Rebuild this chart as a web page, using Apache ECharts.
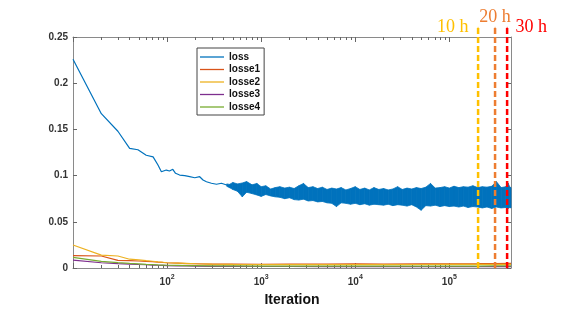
<!DOCTYPE html>
<html>
<head>
<meta charset="utf-8">
<script src="https://cdn.jsdelivr.net/npm/echarts@6/dist/echarts.min.js"></script>
<style>
  html,body{margin:0;padding:0;background:#fff;}
  #chart{width:580px;height:324px;}
</style>
</head>
<body>
<div id="chart"></div>
<script>
// loss, early part (single line)
var lossIter = [10, 20, 30, 40, 49, 60, 71, 80, 87, 98, 106, 115, 123, 136, 154, 174, 197, 222, 241, 262, 296, 335, 378, 430];
var lossVal = [0.226, 0.167, 0.148, 0.1295, 0.128, 0.122, 0.1203, 0.1115, 0.1042, 0.106, 0.105, 0.1068, 0.1025, 0.1006, 0.0999, 0.0988, 0.0977, 0.0988, 0.0952, 0.0934, 0.0917, 0.0906, 0.0917, 0.0898];

// loss, noisy part: envelope of the dense band
var bandIter = [430, 460, 500, 560, 630, 700, 800, 900, 1000, 1120, 1260, 1410, 1580, 1780, 2000, 2240, 2510, 2820, 3160, 3550, 3980, 4470, 5010, 5620, 6310, 7080, 7940, 8910, 10000, 11200, 12600, 14100, 15800, 17800, 20000, 22400, 25100, 28200, 31600, 35500, 39800, 44700, 50100, 56200, 63100, 70800, 79400, 89100, 100000, 112000, 126000, 141000, 158000, 178000, 200000, 224000, 251000, 282000, 316000, 355000, 398000, 420000, 440000, 452000];
var bandUpper = [0.0910, 0.0905, 0.0925, 0.0910, 0.0920, 0.0935, 0.0900, 0.0915, 0.0880, 0.0890, 0.0855, 0.0870, 0.0880, 0.0865, 0.0875, 0.0860, 0.0890, 0.0915, 0.0870, 0.0880, 0.0860, 0.0875, 0.0850, 0.0865, 0.0855, 0.0870, 0.0845, 0.0860, 0.0880, 0.0850, 0.0865, 0.0845, 0.0870, 0.0850, 0.0860, 0.0845, 0.0855, 0.0880, 0.0850, 0.0865, 0.0855, 0.0870, 0.0860, 0.0875, 0.0915, 0.0865, 0.0870, 0.0880, 0.0865, 0.0885, 0.0870, 0.0880, 0.0875, 0.0890, 0.0870, 0.0880, 0.0875, 0.0885, 0.0935, 0.0870, 0.0880, 0.0920, 0.0875, 0.0870];
var bandLower = [0.0885, 0.0870, 0.0850, 0.0830, 0.0770, 0.0820, 0.0805, 0.0790, 0.0775, 0.0795, 0.0780, 0.0770, 0.0765, 0.0750, 0.0760, 0.0740, 0.0735, 0.0745, 0.0725, 0.0730, 0.0715, 0.0720, 0.0705, 0.0700, 0.0665, 0.0705, 0.0700, 0.0690, 0.0700, 0.0685, 0.0695, 0.0680, 0.0690, 0.0685, 0.0680, 0.0690, 0.0675, 0.0685, 0.0680, 0.0670, 0.0685, 0.0660, 0.0625, 0.0675, 0.0670, 0.0680, 0.0665, 0.0675, 0.0665, 0.0670, 0.0660, 0.0670, 0.0655, 0.0665, 0.0660, 0.0650, 0.0660, 0.0645, 0.0660, 0.0650, 0.0655, 0.0645, 0.0655, 0.0650];

// small losses
var lowIter = [10, 20, 30, 40, 50, 60, 70, 80, 90, 100, 130, 160, 200, 300, 500, 1000, 2000, 5000, 10000, 20000, 50000, 100000, 200000, 300000, 452000];
var losse1 = [0.0133, 0.0130, 0.0083, 0.0080, 0.0076, 0.0072, 0.0070, 0.0064, 0.0060, 0.0057, 0.0052, 0.0048, 0.0046, 0.0042, 0.0043, 0.0040, 0.0043, 0.0041, 0.0044, 0.0042, 0.0045, 0.0046, 0.0047, 0.0048, 0.0050];
var losse2 = [0.0249, 0.0140, 0.0130, 0.0095, 0.0088, 0.0079, 0.0073, 0.0066, 0.0062, 0.0057, 0.0053, 0.0050, 0.0046, 0.0041, 0.0039, 0.0037, 0.0036, 0.0037, 0.0036, 0.0037, 0.0038, 0.0039, 0.0039, 0.0040, 0.0040];
var losse3 = [0.0085, 0.0057, 0.0047, 0.0042, 0.0038, 0.0035, 0.0032, 0.0030, 0.0028, 0.0026, 0.0024, 0.0022, 0.0020, 0.0018, 0.0017, 0.0016, 0.0016, 0.0015, 0.0015, 0.0015, 0.0015, 0.0015, 0.0015, 0.0015, 0.0015];
var losse4 = [0.0115, 0.0072, 0.0058, 0.0050, 0.0045, 0.0040, 0.0037, 0.0034, 0.0032, 0.0030, 0.0028, 0.0026, 0.0025, 0.0023, 0.0022, 0.0021, 0.0021, 0.0020, 0.0020, 0.0020, 0.0021, 0.0021, 0.0021, 0.0022, 0.0022];

// training time markers
var markIter = [202000, 306000, 411000];
var markText = ['10 h', '20 h', '30 h'];
var markTop = 0.2605;

var majorTicks = [10, 100, 1000, 10000, 100000];
var labelTicks = [100, 1000, 10000, 100000];
var minorTicks = [];
[10, 100, 1000, 10000, 100000].forEach(function (d) {
  for (var k = 2; k <= 9; k++) if (d * k <= 452000) minorTicks.push(d * k);
});

var colors = ['#0072BD', '#D95319', '#EDB120', '#7E2F8E', '#77AC30'];
var markColors = ['#FFC000', '#ED7D31', '#FF0000'];
var markPos = [['left', 9], ['top', 1], ['right', 8]];
var lineIcon = 'path://M0,0H26V1.4H0Z';

function pairs(xs, ys) {
  return xs.map(function (x, i) { return [x, ys[i]]; });
}

var chart = echarts.init(document.getElementById('chart'));

var xBase = {
  type: 'log', logBase: 10, min: 10, max: 452000,
  splitLine: { show: false }
};
function xAxisDef(pos, ticks, len, showLine, labels) {
  return Object.assign({}, xBase, {
    position: pos,
    axisLine: { show: showLine, onZero: false, lineStyle: { color: '#8a8a8a', width: 1 } },
    axisTick: { show: true, inside: true, length: len, customValues: ticks, lineStyle: { color: '#666' } },
    axisLabel: labels ? {
      show: true, margin: 6, customValues: labelTicks,
      formatter: function (v) { return '{b|10}{s|' + Math.round(Math.log10(v)) + '}'; },
      rich: {
        b: { fontSize: 10, fontWeight: 'bold', color: '#333', fontFamily: 'Arial, Liberation Sans', lineHeight: 13, verticalAlign: 'bottom' },
        s: { fontSize: 7, fontWeight: 'bold', color: '#333', fontFamily: 'Arial, Liberation Sans', lineHeight: 7, verticalAlign: 'top' }
      }
    } : { show: false }
  });
}

var xAxes = [
  xAxisDef('bottom', majorTicks, 5, true, true),
  xAxisDef('bottom', minorTicks, 3, false, false),
  xAxisDef('top', majorTicks, 5, true, false),
  xAxisDef('top', minorTicks, 3, false, false)
];
xAxes[0].name = 'Iteration';
xAxes[0].nameLocation = 'middle';
xAxes[0].nameGap = 25;
xAxes[0].nameTextStyle = { fontSize: 14, fontWeight: 'bold', color: '#111', fontFamily: 'Arial, Liberation Sans' };

var yBase = {
  type: 'value', min: 0, max: 0.25, interval: 0.05,
  splitLine: { show: false },
  axisLine: { show: true, lineStyle: { color: '#8a8a8a' } },
  axisTick: { show: true, inside: true, length: 4, lineStyle: { color: '#666' } }
};

// band pieces: one quad per step between neighbouring envelope samples
var bandData = [];
for (var i = 0; i < bandIter.length - 1; i++) {
  bandData.push([bandIter[i], bandLower[i], bandUpper[i], bandIter[i + 1], bandLower[i + 1], bandUpper[i + 1]]);
}

var series = [
  {
    name: 'loss', type: 'line', data: pairs(lossIter, lossVal), symbol: 'none',
    lineStyle: { color: colors[0], width: 1.2 }, itemStyle: { color: colors[0] }, z: 2
  },
  {
    name: 'loss', type: 'custom', data: bandData, z: 2,
    itemStyle: { color: colors[0] },
    encode: { x: [0, 3], y: [1, 2, 4, 5] },
    renderItem: function (params, api) {
      var a = api.coord([api.value(0), api.value(1)]);
      var b = api.coord([api.value(0), api.value(2)]);
      var c = api.coord([api.value(3), api.value(5)]);
      var d = api.coord([api.value(3), api.value(4)]);
      return {
        type: 'polygon',
        shape: { points: [a, b, c, d] },
        style: { fill: colors[0], stroke: colors[0], lineWidth: 0.8 }
      };
    }
  }
];
[losse1, losse2, losse3, losse4].forEach(function (vals, i) {
  series.push({
    name: 'losse' + (i + 1), type: 'line', data: pairs(lowIter, vals), symbol: 'none',
    lineStyle: { color: colors[i + 1], width: 1.2 }, itemStyle: { color: colors[i + 1] }, z: 3
  });
});
markIter.forEach(function (x, i) {
  series.push({
    name: markText[i], type: 'line', clip: false, z: 5,
    symbol: 'circle', symbolSize: 1, showSymbol: true,
    lineStyle: { color: markColors[i], width: 2.5, type: [6, 3] },
    itemStyle: { color: markColors[i] },
    label: {
      show: true, formatter: markText[i], position: markPos[i][0], distance: markPos[i][1],
      color: markColors[i], fontSize: 18, fontFamily: 'Liberation Serif, Times New Roman, serif'
    },
    data: [
      { value: [x, 0], label: { show: false } },
      [x, markTop]
    ]
  });
});

chart.setOption({
  animation: false,
  backgroundColor: '#fff',
  grid: { left: 73, top: 37, right: 69, bottom: 56, outerBoundsMode: 'none' },
  legend: {
    data: ['loss', 'losse1', 'losse2', 'losse3', 'losse4'].map(function (n) { return { name: n, icon: lineIcon }; }),
    orient: 'vertical', left: 197, top: 48,
    padding: [4, 4, 3, 3], itemGap: 2.5, itemWidth: 24, itemHeight: 10,
    backgroundColor: '#fff', borderColor: '#444', borderWidth: 1,
    textStyle: { fontSize: 10, fontWeight: 'bold', color: '#111', fontFamily: 'Arial, Liberation Sans' },
    selectedMode: false
  },
  xAxis: xAxes,
  yAxis: [
    Object.assign({}, yBase, {
      position: 'left',
      axisLabel: { margin: 5, fontSize: 10, fontWeight: 'bold', color: '#333', fontFamily: 'Arial, Liberation Sans' }
    }),
    Object.assign({}, yBase, { position: 'right', axisLabel: { show: false } })
  ],
  series: series
});
</script>
</body>
</html>
